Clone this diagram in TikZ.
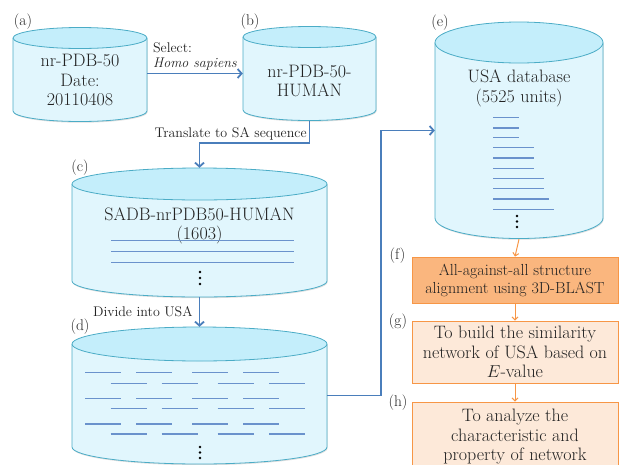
\documentclass[tikz,border=0pt]{standalone}
\usepackage{amsmath}
\usepackage{color}
\usetikzlibrary{arrows.meta,shadows}

\definecolor{cylline}{HTML}{4BACC6}
\definecolor{cylfill}{HTML}{E1F6FD}
\definecolor{cyltopfill}{HTML}{C4EEFB}
\definecolor{flowblue}{HTML}{4A7EBB}
\definecolor{seqblue}{HTML}{6A92CC}
\definecolor{boxline}{HTML}{F79646}
\definecolor{boxorange}{HTML}{FAB67E}
\definecolor{boxpeach}{HTML}{FDE9D9}
\definecolor{txtgray}{HTML}{222222}

\tikzset{
  cylbody/.style={fill=cylfill, draw=cylline, line width=0.8pt,
    drop shadow={shadow xshift=0.6pt, shadow yshift=-1.2pt, opacity=0.25}},
  cyltop/.style={fill=cyltopfill, draw=cylline, line width=0.8pt},
  frame/.style={inner sep=0pt},
  cyltext/.style={align=center, text=txtgray, font=\fontsize{18}{19.5}\selectfont},
  steplabel/.style={text=txtgray, inner sep=0pt, font=\fontsize{15.5}{17}\selectfont},
  flowlabel/.style={text=txtgray, inner sep=2pt, font=\fontsize{14}{15}\selectfont},
  flow/.style={draw=flowblue, line width=1.8pt, -{Straight Barb[length=4pt,width=9pt]}},
  nextstep/.style={draw=boxline, line width=1pt, -{Straight Barb[length=3pt,width=6pt]}},
  seqline/.style={draw=seqblue, line width=1.1pt},
  taskbox/.style={draw=boxline, line width=0.8pt, minimum width=206pt, align=center,
    inner xsep=1pt, text=txtgray, font=\fontsize{18}{19.5}\selectfont},
}

\begin{document}
\begin{tikzpicture}[x=1pt,y=1pt]
\useasboundingbox (0,0) rectangle (619,-464);

% (a) nr-PDB-50
\filldraw[cylbody] (13,-38) -- (13,-111) arc[start angle=180, end angle=360, x radius=67pt, y radius=10.5pt] -- (147,-38);
\filldraw[cyltop] (80,-38) ellipse [x radius=67pt, y radius=10.5pt];
\node[frame, minimum width=134pt, minimum height=94pt] (a) at (80,-75) {};
\node[cyltext] (a-text) at (80,-80) {nr-PDB-50\\Date:\\20110408};
\node[steplabel] (la) at (23,-22) {(a)};

% (b) nr-PDB-50-HUMAN
\filldraw[cylbody] (243,-37) -- (243,-110) arc[start angle=180, end angle=360, x radius=66.5pt, y radius=10.5pt] -- (376,-37);
\filldraw[cyltop] (309.5,-37) ellipse [x radius=66.5pt, y radius=10.5pt];
\node[frame, minimum width=133pt, minimum height=94pt] (b) at (309.5,-73.5) {};
\node[cyltext] (b-text) at (309.5,-81) {nr-PDB-50-\\HUMAN};
\node[steplabel] (lb) at (250,-22) {(b)};

% (c) SADB
\filldraw[cylbody] (72,-184) -- (72,-281) arc[start angle=180, end angle=360, x radius=127.5pt, y radius=16pt] -- (327,-184);
\filldraw[cyltop] (199.5,-184) ellipse [x radius=127.5pt, y radius=16pt];
\node[frame, minimum width=255pt, minimum height=129pt] (c) at (199.5,-232.5) {};
\node[cyltext] (c-text) at (199.5,-226) {SADB-nrPDB50-HUMAN\\(1603)};
\draw[seqline] (111,-240.7) -- (294,-240.7) (111,-251.7) -- (294,-251.7) (111,-262.7) -- (294,-262.7);
\fill[black] (200,-272) circle (1.4pt) (200,-278) circle (1.4pt) (200,-284) circle (1.4pt);
\node[steplabel] (lc) at (80,-168) {(c)};

% (d) USA
\filldraw[cylbody] (72,-344) -- (72,-447) arc[start angle=180, end angle=360, x radius=127.5pt, y radius=17pt] -- (327,-344);
\filldraw[cyltop] (199.5,-344) ellipse [x radius=127.5pt, y radius=17pt];
\node[frame, minimum width=255pt, minimum height=137pt] (d) at (199.5,-395.5) {};
\draw[seqline] (85,-372.7) -- (120.7,-372.7) (136,-372.7) -- (171.7,-372.7) (192.3,-372.7) -- (228,-372.7) (243.3,-372.7) -- (279,-372.7);
\draw[seqline] (110.7,-383.3) -- (146.7,-383.3) (161.7,-383.3) -- (197.7,-383.3) (217.7,-383.3) -- (253.7,-383.3) (269,-383.3) -- (304.7,-383.3);
\draw[seqline] (85,-398.3) -- (120.7,-398.3) (136,-398.3) -- (171.7,-398.3) (192.3,-398.3) -- (228,-398.3) (243.3,-398.3) -- (279,-398.3);
\draw[seqline] (110.7,-408.3) -- (146.7,-408.3) (161.7,-408.3) -- (197.7,-408.3) (217.7,-408.3) -- (253.7,-408.3) (269,-408.3) -- (304.7,-408.3);
\draw[seqline] (85,-424) -- (120.7,-424) (136,-424) -- (171.7,-424) (192.3,-424) -- (228,-424) (243.3,-424) -- (279,-424);
\draw[seqline] (110.7,-434) -- (146.7,-434) (161.7,-434) -- (197.7,-434) (217.7,-434) -- (253.7,-434) (269,-434) -- (304.7,-434);
\fill[black] (200,-447) circle (1.4pt) (200,-452.5) circle (1.4pt) (200,-458) circle (1.4pt);
\node[steplabel] (ld) at (80,-327) {(d)};

% (e) USA database
\filldraw[cylbody] (435,-42.5) -- (435,-218) arc[start angle=180, end angle=360, x radius=84pt, y radius=20.5pt] -- (603,-42.5);
\filldraw[cyltop] (519,-42.5) ellipse [x radius=84pt, y radius=20.5pt];
\node[frame, minimum width=168pt, minimum height=217pt] (e) at (519,-130.5) {};
\node[cyltext] (e-text) at (519,-88.5) {USA database\\(5525 units)};
\draw[seqline] (493.3,-117.3) -- (519,-117.3) (493.3,-128) -- (519,-128) (493.3,-137.7) -- (519,-137.7);
\draw[seqline] (493.3,-147.7) -- (534.3,-147.7) (493.3,-158) -- (534.3,-158) (493.3,-168.3) -- (534.3,-168.3);
\draw[seqline] (493.3,-178.7) -- (544.3,-178.7) (493.3,-188.7) -- (544.3,-188.7);
\draw[seqline] (493.3,-199) -- (549.3,-199) (493.3,-209.3) -- (554.3,-209.3);
\fill[black] (517,-216) circle (1.4pt) (517,-221.5) circle (1.4pt) (517,-227) circle (1.4pt);
\node[steplabel] (le) at (440,-23) {(e)};

% (f)-(h) steps
\node[taskbox, fill=boxorange, minimum height=46pt, font=\fontsize{16}{18}\selectfont] (f) at (515,-280) {All-against-all structure\\alignment using 3D-BLAST};
\node[steplabel] (lf) at (397.5,-256) {(f)};
\node[taskbox, fill=boxpeach, minimum height=62pt] (g) at (515,-352) {To build the similarity\\network of USA based on\\$E$-value};
\node[steplabel] (lg) at (398,-322) {(g)};
\node[taskbox, fill=boxpeach, minimum height=70pt] (h) at (515,-437) {To analyze the\\characteristic and\\property of network};
\node[steplabel] (lh) at (398,-403) {(h)};

% connectors
\draw[flow] (a.east |- b.west) -- node[flowlabel, above, align=left] {Select:\\\textit{Homo sapiens}} (b.west);
\draw[flow] (b.south) -- ++(0,-22.5) node[flowlabel, above left] {Translate to SA sequence} -| (c.north);
\draw[flow] (c.south) -- node[flowlabel, left=4pt] {Divide into USA} (d.north);
\draw[flow] (d.east) -- ++(54,0) |- (e.west);
\draw[nextstep] (e.south) -- (f.north);
\draw[nextstep] (f.south) -- (g.north);
\draw[nextstep] (g.south) -- (h.north);
\end{tikzpicture}
\end{document}
